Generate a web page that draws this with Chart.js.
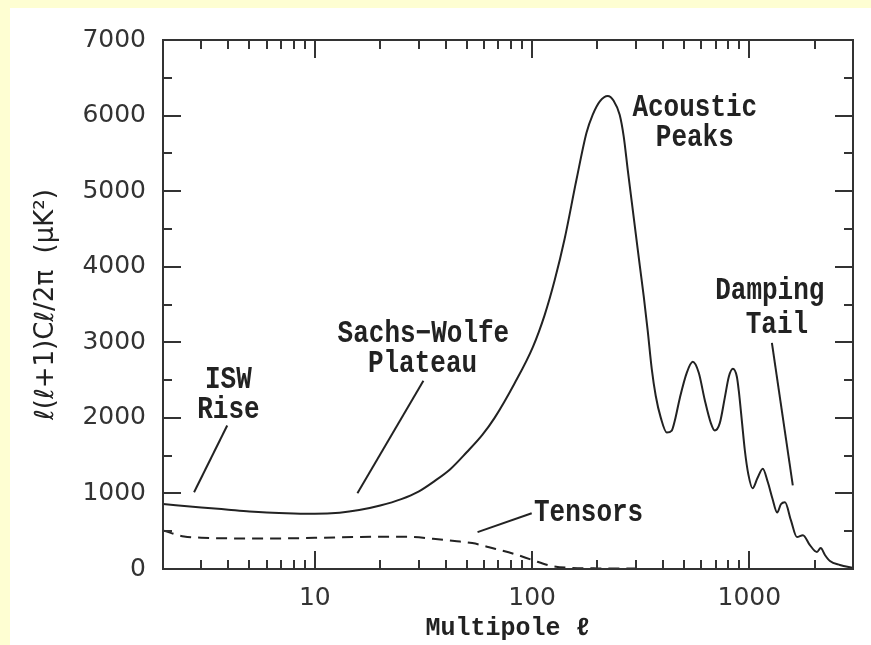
<!DOCTYPE html>
<html>
<head>
<meta charset="utf-8">
<title>CMB power spectrum</title>
<script src="https://cdn.jsdelivr.net/npm/chart.js@4.4.1/dist/chart.umd.min.js"></script>
<style>
  html, body { margin: 0; padding: 0; background: #fefed2; width: 871px; height: 645px; overflow: hidden; }
  #wrap { position: absolute; left: 10px; top: 8px; width: 861px; height: 637px; background: #fff; }
</style>
</head>
<body>
<div id="wrap"><canvas id="cmbChart" width="861" height="637"></canvas></div>
<script>
// ===================== DATA =====================
// temperature power spectrum
const multipoles = [2, 3, 4, 5, 6, 8, 10, 13, 16, 20, 25, 30, 35, 42, 50, 59, 67.2, 83, 100.9, 114.2, 127, 141.2, 160, 178, 190, 205, 223, 237.4, 253, 264.1, 275.5, 287.4, 299.9, 312.9, 326.4, 340.6, 355.4, 370.7, 391, 416.8, 439.5, 454, 479, 515, 549, 585, 623, 665, 693, 731, 771, 804.5, 840, 876, 894, 923.5, 953.5, 989.5, 1034.5, 1089, 1153, 1217, 1276, 1343, 1397, 1459, 1553, 1656, 1765, 1900, 2047, 2130, 2228, 2350, 2612, 3000];
const ttPower = [860, 815, 785, 762, 748, 735, 730, 745, 780, 840, 925, 1025, 1150, 1320, 1545, 1775, 2000, 2455, 2940, 3360, 3820, 4370, 5150, 5773, 6010, 6189, 6260, 6195, 6010, 5721, 5285, 4864, 4442, 4020, 3612, 3150, 2649, 2293, 2003, 1806, 1832, 1964, 2267, 2596, 2741, 2596, 2240, 1930, 1832, 1930, 2267, 2544, 2649, 2544, 2359, 1964, 1568, 1252, 1068, 1200, 1327, 1147, 936, 747, 857, 883, 646, 422, 448, 316, 224, 277, 185, 105, 53, 13];

// tensor contribution (dashed)
const tensorMultipoles = [2, 2.5, 3, 4, 5, 7, 10, 15, 20, 27, 35, 44, 53, 68, 83, 100, 121, 150, 200, 300];
const tensorPower = [510, 430, 415, 405, 402, 405, 412, 422, 428, 425, 400, 370, 343, 265, 198, 120, 45, 15, 8, 5];

const xTickLabels = [10, 100, 1000];
const yTickStep = 1000;

// annotations (text at data coordinates)
const noteText = ["ISW", "Rise", "Sachs\u2212Wolfe", "Plateau", "Acoustic", "Peaks", "Damping", "Tail", "Tensors"];
const noteL = [4.0, 4.0, 31.6, 31.3, 561, 561, 1242, 1340, 182];
const noteV = [2491, 2096, 3110, 2715, 6102, 5694, 3677, 3229, 738];

// pointer lines
const pointerFromL = [3.95, 31.6, 1270, 56.1];
const pointerFromV = [1898, 2491, 2992, 488];
const pointerToL = [2.78, 15.7, 1585, 99.6];
const pointerToV = [1015, 1002, 1107, 738];

const ink = "#222";
const slabFont = "bold 26px 'Liberation Mono', 'Courier New', monospace";

// ===================== FRAME + INWARD TICKS =====================
const frameTicks = {
  id: "frameTicks",
  afterDraw(chart) {
    const ctx = chart.ctx;
    const a = chart.chartArea;
    const xs = chart.scales.x;
    const ys = chart.scales.y;
    ctx.save();
    ctx.strokeStyle = "#333";
    ctx.lineWidth = 2;
    ctx.strokeRect(a.left, a.top, a.right - a.left, a.bottom - a.top);

    // y ticks (left and right)
    for (let v = 0; v <= ys.max; v += yTickStep / 2) {
      const py = Math.round(ys.getPixelForValue(v));
      const len = v % yTickStep === 0 ? 18 : 9;
      ctx.beginPath();
      ctx.moveTo(a.left, py); ctx.lineTo(a.left + len, py);
      ctx.moveTo(a.right, py); ctx.lineTo(a.right - len, py);
      ctx.stroke();
    }
    // x ticks (bottom and top), log decades
    for (let d = 1; d <= 1000; d *= 10) {
      for (let m = 1; m <= 9; m++) {
        const v = m * d;
        if (v < xs.min || v > xs.max) continue;
        const px = Math.round(xs.getPixelForValue(v));
        const len = m === 1 ? 18 : 9;
        ctx.beginPath();
        ctx.moveTo(px, a.bottom); ctx.lineTo(px, a.bottom - len);
        ctx.moveTo(px, a.top); ctx.lineTo(px, a.top + len);
        ctx.stroke();
      }
    }
    ctx.restore();
  }
};

// ===================== ANNOTATIONS =====================
const notes = {
  id: "notes",
  afterDatasetsDraw(chart) {
    const ctx = chart.ctx;
    const xs = chart.scales.x;
    const ys = chart.scales.y;
    ctx.save();
    ctx.strokeStyle = ink;
    ctx.lineWidth = 2;
    for (let i = 0; i < pointerFromL.length; i++) {
      ctx.beginPath();
      ctx.moveTo(xs.getPixelForValue(pointerFromL[i]), ys.getPixelForValue(pointerFromV[i]));
      ctx.lineTo(xs.getPixelForValue(pointerToL[i]), ys.getPixelForValue(pointerToV[i]));
      ctx.stroke();
    }
    ctx.fillStyle = ink;
    ctx.font = slabFont;
    ctx.textAlign = "center";
    ctx.textBaseline = "middle";
    for (let i = 0; i < noteText.length; i++) {
      ctx.save();
      ctx.translate(xs.getPixelForValue(noteL[i]), ys.getPixelForValue(noteV[i]));
      ctx.scale(1, 1.18);
      ctx.fillText(noteText[i], 0, 0);
      ctx.restore();
    }
    ctx.restore();
  }
};

// ===================== CHART =====================
const ctxCmb = document.getElementById("cmbChart").getContext("2d");

new Chart(ctxCmb, {
  type: "line",
  data: {
    datasets: [{
      label: "TT",
      data: multipoles.map((l, i) => ({ x: l, y: ttPower[i] })),
      borderColor: ink,
      borderWidth: 2,
      pointRadius: 0,
      cubicInterpolationMode: "monotone",
      fill: false
    }, {
      label: "Tensors",
      data: tensorMultipoles.map((l, i) => ({ x: l, y: tensorPower[i] })),
      borderColor: ink,
      borderWidth: 2,
      borderDash: [11, 7],
      pointRadius: 0,
      cubicInterpolationMode: "monotone",
      fill: false
    }]
  },
  options: {
    responsive: false,
    animation: false,
    devicePixelRatio: 1,
    layout: { padding: { left: 0, top: 30, right: 18, bottom: 0 } },
    plugins: {
      legend: { display: false },
      tooltip: { enabled: false }
    },
    scales: {
      x: {
        type: "logarithmic",
        min: 2,
        max: 3000,
        grid: { display: false, drawTicks: false },
        border: { display: false },
        afterFit(scale) { scale.height = 76; },
        ticks: {
          autoSkip: false,
          maxRotation: 0,
          padding: 14,
          color: "#333",
          font: { family: "'DejaVu Sans', sans-serif", size: 25 },
          callback: (v) => xTickLabels.includes(v) ? String(v) : ""
        },
        title: {
          display: true,
          text: "Multipole \u2113",
          color: ink,
          font: { family: "'Liberation Mono', 'Courier New', monospace", size: 25, weight: "bold" },
          padding: { top: 0, bottom: 1 }
        }
      },
      y: {
        min: 0,
        max: 7000,
        grid: { display: false, drawTicks: false },
        border: { display: false },
        afterFit(scale) { scale.width = 153; },
        ticks: {
          stepSize: yTickStep,
          padding: 17,
          color: "#333",
          font: { family: "'DejaVu Sans', sans-serif", size: 25 },
          callback: (v) => String(v)
        },
        title: {
          display: true,
          text: "\u2113(\u2113+1)C\u2113/2\u03c0  (\u03bcK\u00b2)",
          color: ink,
          font: { family: "'DejaVu Sans', sans-serif", size: 26 },
          padding: { top: 21, bottom: 0 }
        }
      }
    }
  },
  plugins: [frameTicks, notes]
});
</script>
</body>
</html>
